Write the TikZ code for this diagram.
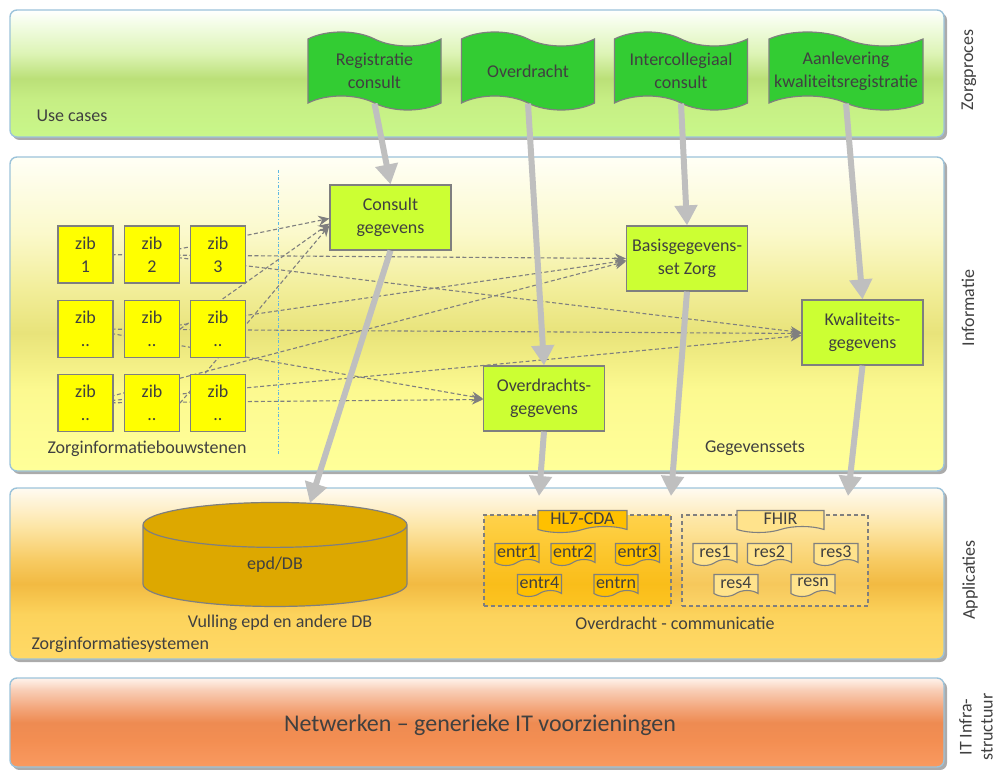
\documentclass[tikz,border=0pt]{standalone}
\usepackage{fontspec}
\setmainfont{Carlito}
\usetikzlibrary{arrows.meta,shapes.geometric,shapes.symbols}

\definecolor{txtgray}{HTML}{404040}
\definecolor{edgegray}{HTML}{7F7F7F}
\definecolor{flaggreen}{HTML}{33CC33}
\definecolor{setgreen}{HTML}{CCFF33}
\definecolor{zibyellow}{HTML}{FFFF00}
\definecolor{fatgray}{HTML}{BFBFBF}
\definecolor{dbgold}{HTML}{DDA800}
\definecolor{cdaorange}{HTML}{FFC000}
\definecolor{fhirlight}{HTML}{FFE38C}
\definecolor{panelrim}{HTML}{9CC3DA}
\definecolor{axisblue}{HTML}{5DB7E3}

% ---- panel colours
\definecolor{prA}{HTML}{C9F78A}\definecolor{prB}{HTML}{C6EE84}\definecolor{prC}{HTML}{BBE078}
\definecolor{prD}{HTML}{DDF4B6}\definecolor{prE}{HTML}{F4FDE8}\definecolor{prF}{HTML}{FFFFFF}
\definecolor{inA}{HTML}{FFFF99}\definecolor{inB}{HTML}{FCF990}\definecolor{inC}{HTML}{E8E37A}
\definecolor{inD}{HTML}{F2EE9A}\definecolor{inE}{HTML}{FBF9CC}\definecolor{inF}{HTML}{FFFFF6}
\definecolor{apA}{HTML}{FFD966}\definecolor{apB}{HTML}{FCD35C}\definecolor{apC}{HTML}{F2BA42}
\definecolor{apD}{HTML}{F7CB63}\definecolor{apE}{HTML}{FDE6A8}\definecolor{apF}{HTML}{FFFBF2}
\definecolor{itA}{HTML}{F99A60}\definecolor{itB}{HTML}{F38E52}\definecolor{itC}{HTML}{EE8B52}
\definecolor{itD}{HTML}{F3A57A}\definecolor{itE}{HTML}{F8CDB5}\definecolor{itF}{HTML}{FFF3EC}

% ---- panel shadings (25bp = bottom, 75bp = top)
\pgfdeclareverticalshading{procshade}{100bp}{color(0bp)=(prA); color(25bp)=(prA);
  color(40bp)=(prB); color(48bp)=(prC); color(58bp)=(prD);
  color(70bp)=(prE); color(75bp)=(prF); color(100bp)=(prF)}
\pgfdeclareverticalshading{infoshade}{100bp}{color(0bp)=(inA); color(25bp)=(inA);
  color(38bp)=(inB); color(47bp)=(inC); color(54bp)=(inD);
  color(63bp)=(inE); color(75bp)=(inF); color(100bp)=(inF)}
\pgfdeclareverticalshading{appshade}{100bp}{color(0bp)=(apA); color(25bp)=(apA);
  color(38bp)=(apB); color(47bp)=(apC); color(54bp)=(apD);
  color(64bp)=(apE); color(75bp)=(apF); color(100bp)=(apF)}
\pgfdeclareverticalshading{infrashade}{100bp}{color(0bp)=(itA); color(25bp)=(itA);
  color(40bp)=(itB); color(50bp)=(itC); color(58bp)=(itD);
  color(68bp)=(itE); color(75bp)=(itF); color(100bp)=(itF)}

\pgfdeclarelayer{back}
\pgfdeclarelayer{wires}
\pgfsetlayers{back,wires,main}

\tikzset{
  every node/.style={text=txtgray, font=\fontsize{18}{23}\selectfont},
  panel/.style={rounded corners=7pt, draw=panelrim, line width=1.4pt},
  shadowbox/.style={rounded corners=7pt, fill=black!55, opacity=.6},
  usecase/.style={tape, tape bend top=out and in, tape bend bottom=out and in,
    tape bend height=14pt, draw=edgegray, line width=1.2pt, fill=flaggreen,
    minimum width=133pt, minimum height=78pt, align=center, inner sep=1pt},
  zib/.style={draw=edgegray, line width=1.2pt, fill=zibyellow, minimum width=55pt,
    minimum height=57pt, align=center, inner sep=0pt},
  dataset/.style={draw=edgegray, line width=1.2pt, fill=setgreen, minimum width=121pt,
    minimum height=65pt, align=center, inner sep=1pt},
  doc/.style={tape, tape bend top=none, tape bend height=6pt, draw=edgegray,
    line width=1.1pt, minimum height=22pt, inner sep=1pt},
  entry/.style={doc, fill=cdaorange, minimum width=44pt},
  resource/.style={doc, fill=fhirlight, minimum width=44pt},
  group/.style={draw=edgegray, line width=1.1pt, dash pattern=on 4pt off 3pt,
    minimum width=187pt, minimum height=91pt},
  link/.style={draw=edgegray, line width=1.1pt, dash pattern=on 4pt off 2.5pt,
    -{Stealth[length=11pt,width=10pt]}},
  flow/.style={draw=fatgray, line width=6pt, -{Triangle[length=20pt,width=22pt]}},
  side/.style={rotate=90, align=center},
}

\begin{document}
\begin{tikzpicture}[x=1pt, y=-1pt]
\useasboundingbox (0,0) rectangle (999,770);

	% ---- layers

	\begin{pgfonlayer}{back}
		\foreach \ytop/\ybot/\sh in {10/137/procshade, 157/471/infoshade, 488/659/appshade, 678/767/infrashade} {
			\fill[shadowbox] (12.5,\ytop+3) rectangle (947,\ybot+3);
			\draw[panel, shading=\sh] (10,\ytop) rectangle (944,\ybot);
		}
	\end{pgfonlayer}

	\node[side] (zorgproces) at (969,70) {Zorgproces};
	\node[side] (informatie) at (968,308) {Informatie};
	\node[side] (applicaties) at (970,580) {Applicaties};
	\node[side, font=\fontsize{18}{21}\selectfont] (infra) at (976,727) {IT Infra-\\structuur};

	% ---- use cases

	\node[usecase] (regcons) at (374.5,71) {Registratie\\consult};
	\node[usecase] (overdr) at (528,71) {Overdracht};
	\node[usecase] (intercol) at (681,71) {Intercollegiaal\\consult};
	\node[usecase, minimum width=154pt] (aanlev) at (846,71) {Aanlevering\\kwaliteitsregistratie};
	\node[anchor=west] (uclabel) at (33,116) {Use cases};

	% ---- informatie

	\foreach \c/\xx in {1/85.5,2/152,3/218} {
		\node[zib] (z1\c) at (\xx,254.5) {zib\\\c};
		\node[zib] (z2\c) at (\xx,329) {zib\\..};
		\node[zib] (z3\c) at (\xx,403) {zib\\..};
	}

	\node[dataset] (consgeg) at (390.5,217.5) {Consult\\gegevens};
	\node[dataset] (basisgeg) at (687,258.5) {Basisgegevens-\\set Zorg};
	\node[dataset] (kwalgeg) at (862.5,332.5) {Kwaliteits-\\gegevens};
	\node[dataset] (overgeg) at (544,398.5) {Overdrachts-\\gegevens};

	\node[anchor=west] (ziblabel) at (44,449) {Zorginformatiebouwstenen};
	\node (setlabel) at (755,448) {Gegevenssets};

	\begin{pgfonlayer}{wires}
		\draw[axisblue, dash dot, line width=0.9pt] (278,170) -- (278,455);

		\draw[link] (z12.center) -- ([yshift=-1pt]consgeg.west);
		\draw[link] (z22.east) -- ([yshift=-6pt]consgeg.west);
		\draw[link] (z32.east) -- ([yshift=-8pt]consgeg.west);

		\draw[link] (z11.center) -- (basisgeg.west);
		\draw[link] (z22.center) -- ([yshift=-2pt]basisgeg.west);
		\draw[link] (z31.center) -- ([yshift=-3pt]basisgeg.west);

		\draw[link] (z12.center) -- (kwalgeg.west);
		\draw[link] (z21.center) -- ([yshift=-1pt]kwalgeg.west);
		\draw[link] (z31.center) -- ([yshift=-3pt]kwalgeg.west);

		\draw[link] (z21.center) -- (overgeg.west);
		\draw[link] (z31.center) -- ([yshift=-1pt]overgeg.west);
	\end{pgfonlayer}

	% ---- applicaties

	\node[cylinder, shape border rotate=90, aspect=0.72, draw=edgegray, line width=1.2pt,
		fill=dbgold, minimum width=264pt, minimum height=104pt] (epd) at (275,568.5) {\raisebox{11pt}{epd/DB}};

	\node[group, fill=cdaorange, fill opacity=.6] (cdagrp) at (577.5,560.5) {};
	\node[group, fill=fhirlight, fill opacity=.35, minimum width=186pt] (fhirgrp) at (775,560.5) {};
	\node[doc, fill=cdaorange, minimum width=89pt] (cdatab) at (582.5,518.5) {HL7-CDA};
	\node[doc, fill=fhirlight, minimum width=87pt] (fhirtab) at (780.5,518.5) {FHIR};

	\foreach \nm/\xx/\yy in {entr1/517/551.5, entr2/573/551.5, entr3/637.5/551.5, entr4/539.5/582.5, entrn/616/582.5}
		\node[entry] (\nm) at (\xx,\yy) {\nm};
	\foreach \nm/\xx/\yy in {res1/715/551.5, res2/769.5/551.5, res3/836/551.5, res4/736/582.5, resn/813/582.5}
		\node[resource] (\nm) at (\xx,\yy) {\nm};

	\node (vullabel) at (280,623) {Vulling epd en andere DB};
	\node (commlabel) at (675,623) {Overdracht - communicatie};
	\node[anchor=west] (syslabel) at (28,645) {Zorginformatiesystemen};

	% ---- infrastructuur

	\node[font=\fontsize{24}{28}\selectfont] (netlabel) at (480,725) {Netwerken – generieke IT voorzieningen};

	% ---- flows

	\coordinate (dbtip) at (310,503);
	\coordinate (apptip1) at (539,496);
	\coordinate (apptip2) at (671,496);
	\coordinate (apptip3) at (848,496);

	\draw[flow] (regcons.south) -- (consgeg.north);
	\draw[flow] (overdr.south) -- (overgeg.north);
	\draw[flow] (intercol.south) -- (basisgeg.north);
	\draw[flow] (aanlev.south) -- (kwalgeg.north);

	\draw[flow] (consgeg.south) -- (dbtip);
	\draw[flow] (overgeg.south) -- (apptip1);
	\draw[flow] (basisgeg.south) -- (apptip2);
	\draw[flow] (kwalgeg.south) -- (apptip3);

\end{tikzpicture}
\end{document}
